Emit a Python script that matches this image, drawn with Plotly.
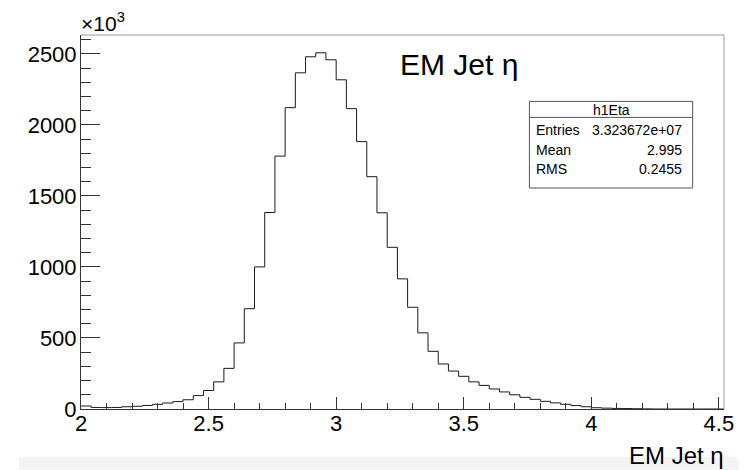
import numpy as np
import plotly.graph_objects as go

# ---- data (thousands of entries per bin of width 0.04, from eta = 2.00) ----
bin_width = 0.04
eta_start = 2.0
counts_k = [21, 11, 10, 11, 16, 19, 25, 33, 42, 52,
            65, 94, 130, 191, 286, 465, 706, 1000, 1383, 1780,
            2121, 2366, 2479, 2507, 2458, 2317, 2114, 1882, 1635, 1381,
            1138, 916, 716, 536, 406, 317, 267, 230, 191, 166,
            141, 120, 100, 82, 68, 54, 43, 33, 24, 16,
            9, 6, 4, 3, 2, 1, 0, 0, 0, 0,
            0, 0, 0]
x_ticks = [2, 2.5, 3, 3.5, 4, 4.5]
x_tick_labels = ["2", "2.5", "3", "3.5", "4", "4.5"]
y_ticks = [0, 500, 1000, 1500, 2000, 2500]
y_tick_labels = ["0", "500", "1000", "1500", "2000", "2500"]
stats_name = "h1Eta"
stats_rows = [("Entries", "3.323672e+07"), ("Mean", "2.995"), ("RMS", "0.2455")]
title_text = "EM Jet η"
xtitle_text = "EM Jet η"

n = len(counts_k)
edges = eta_start + bin_width * np.arange(n + 1)
xs = list(edges)
ys = list(counts_k) + [counts_k[-1]]

# ---- layout geometry (pixels) ----
W, H = 746, 470
L, R, T, B = 81, 731, 35.3, 409.3
pw, ph = R - L, B - T

def px(x):
    return (x - L) / pw

def py(y):
    return (B - y) / ph

FONT = "Liberation Sans, Arial, Helvetica, sans-serif"

fig = go.Figure()
fig.add_trace(go.Scatter(x=xs, y=ys, mode="lines", line=dict(shape="hv", color="#1a1a1a", width=1),
                         hoverinfo="skip", showlegend=False))

xmax = eta_start + bin_width * n
ymax = max(counts_k) * 1.05

fig.update_layout(
    width=W, height=H,
    margin=dict(l=L, r=W - R, t=T, b=H - B, pad=0),
    paper_bgcolor="white", plot_bgcolor="white",
    font=dict(family=FONT, color="black"),
    showlegend=False,
    xaxis=dict(range=[eta_start, xmax], tickvals=x_ticks, ticktext=x_tick_labels,
               ticks="inside", ticklen=12, tickcolor="#333", tickwidth=1,
               minor=dict(dtick=0.1, tick0=2, ticks="inside", ticklen=6, tickcolor="#333"),
               showgrid=False, zeroline=False, showline=True, linecolor="#333", linewidth=1,
               tickfont=dict(size=22, family=FONT), ticklabelstandoff=-5),
    yaxis=dict(range=[0, ymax], tickvals=y_ticks, ticktext=y_tick_labels,
               ticks="inside", ticklen=19, tickcolor="#333", tickwidth=1,
               minor=dict(dtick=100, tick0=0, ticks="inside", ticklen=10, tickcolor="#333"),
               showgrid=False, zeroline=False, showline=True, linecolor="#333", linewidth=1,
               tickfont=dict(size=22, family=FONT), ticklabelstandoff=-1),
)

shapes = []
# top and right frame
shapes.append(dict(type="line", xref="paper", yref="paper", x0=0, x1=1, y0=1, y1=1,
                   line=dict(color="#999", width=1)))
shapes.append(dict(type="line", xref="paper", yref="paper", x0=1, x1=1, y0=0, y1=1,
                   line=dict(color="#999", width=1)))
# bottom grey band
shapes.append(dict(type="rect", xref="paper", yref="paper", x0=px(18), x1=px(746), y0=py(457), y1=py(470),
                   fillcolor="#f4f4f4", line=dict(width=0), layer="below"))
# stats box
bx0, bx1, by0, by1 = 534.3, 699.3, 101.7, 188.3
shapes.append(dict(type="rect", xref="paper", yref="paper", x0=px(bx0), x1=px(bx1), y0=py(by1), y1=py(by0),
                   fillcolor="white", line=dict(color="#555", width=1)))
shapes.append(dict(type="line", xref="paper", yref="paper", x0=px(bx0), x1=px(bx1), y0=py(117.7), y1=py(117.7),
                   line=dict(color="#555", width=1)))
fig.update_layout(shapes=shapes)

ann = []
ann.append(dict(text=title_text, xref="paper", yref="paper", x=px(463), y=py(64.6),
                xanchor="center", yanchor="middle", showarrow=False, font=dict(size=30, family=FONT)))
ann.append(dict(text=xtitle_text, xref="paper", yref="paper", x=px(733), y=py(455.7),
                xanchor="right", yanchor="middle", showarrow=False, font=dict(size=24, family=FONT)))
ann.append(dict(text="×10<sup>3</sup>", xref="paper", yref="paper", x=px(79), y=py(37),
                xanchor="left", yanchor="bottom", showarrow=False, font=dict(size=21, family=FONT)))
ann.append(dict(text=stats_name, xref="paper", yref="paper", x=px((bx0 + bx1) / 2), y=py(110),
                xanchor="center", yanchor="middle", showarrow=False, font=dict(size=14, family=FONT)))
row_y = [130.3, 150, 169.3]
for (lab, val), yy in zip(stats_rows, row_y):
    ann.append(dict(text=lab, xref="paper", yref="paper", x=px(539), y=py(yy),
                    xanchor="left", yanchor="middle", showarrow=False, font=dict(size=14, family=FONT)))
    ann.append(dict(text=val, xref="paper", yref="paper", x=px(691), y=py(yy),
                    xanchor="right", yanchor="middle", showarrow=False, font=dict(size=14, family=FONT)))
fig.update_layout(annotations=ann)

fig.write_html("out.html", config={"displayModeBar": False},
               post_script="document.body.style.margin='0';document.body.style.overflow='hidden';")
